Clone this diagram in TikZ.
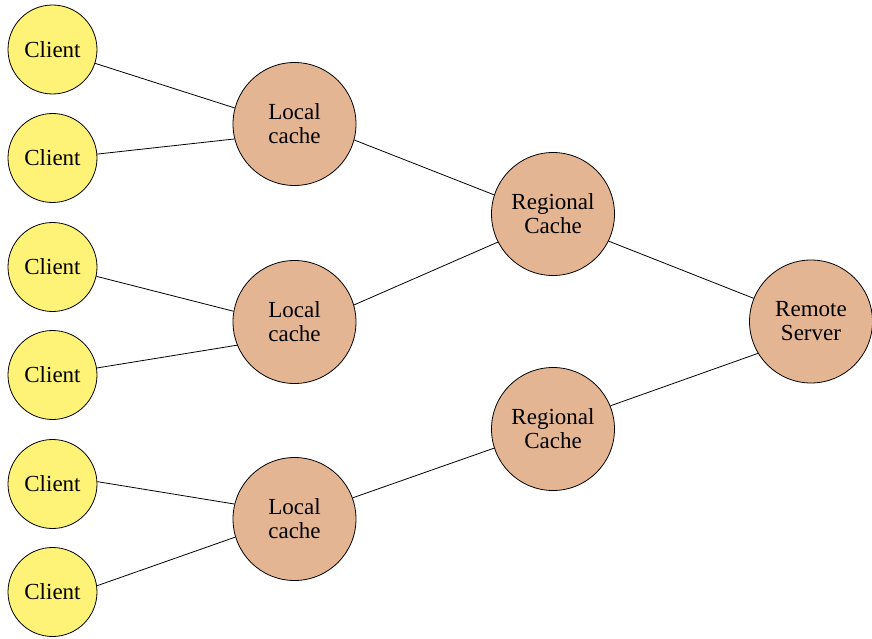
\documentclass[tikz,border=0pt]{standalone}
\usepackage{fontspec}
\setmainfont{Liberation Serif}
\definecolor{clientfill}{HTML}{FFF377}
\definecolor{cachefill}{HTML}{E4B592}
\begin{document}
\begin{tikzpicture}[x=1pt,y=-1pt,
  every node/.style={font=\fontsize{23}{24}\selectfont, align=center, inner sep=0pt},
  client/.style={circle, draw=black, line width=0.8pt, fill=clientfill, minimum size=89pt},
  cache/.style={circle, draw=black, line width=0.8pt, fill=cachefill, minimum size=123pt},
  link/.style={draw=black, line width=0.8pt}]
\useasboundingbox (0,0) rectangle (872,639);
% clients
\node[client] (c1) at (52.5,49.5) {Client};
\node[client] (c2) at (52.5,158) {Client};
\node[client] (c3) at (52.5,267) {Client};
\node[client] (c4) at (52.5,375) {Client};
\node[client] (c5) at (52.5,484) {Client};
\node[client] (c6) at (52.5,592) {Client};
% local caches
\node[cache] (l1) at (294.5,124) {Local\\cache};
\node[cache] (l2) at (294.5,322) {Local\\cache};
\node[cache] (l3) at (294.5,519) {Local\\cache};
% regional caches
\node[cache] (r1) at (553,214) {Regional\\Cache};
\node[cache] (r2) at (553,429) {Regional\\Cache};
% server
\node[cache] (s) at (811,321.5) {Remote\\Server};
% links, attached at fixed points on the circle borders
\draw[link] (c1.-18) -- (l1.165);
\draw[link] (c2.5) -- (l1.194);
\draw[link] (c3.-12) -- (l2.170);
\draw[link] (c4.9) -- (l2.202);
\draw[link] (c5.3) -- (l3.166);
\draw[link] (c6.8) -- (l3.197);
\draw[link] (l1.-15) -- (r1.162);
\draw[link] (l2.16) -- (r1.207);
\draw[link] (l3.20) -- (r2.198);
\draw[link] (r1.-26) -- (s.158);
\draw[link] (r2.22) -- (s.211);
\end{tikzpicture}
\end{document}
